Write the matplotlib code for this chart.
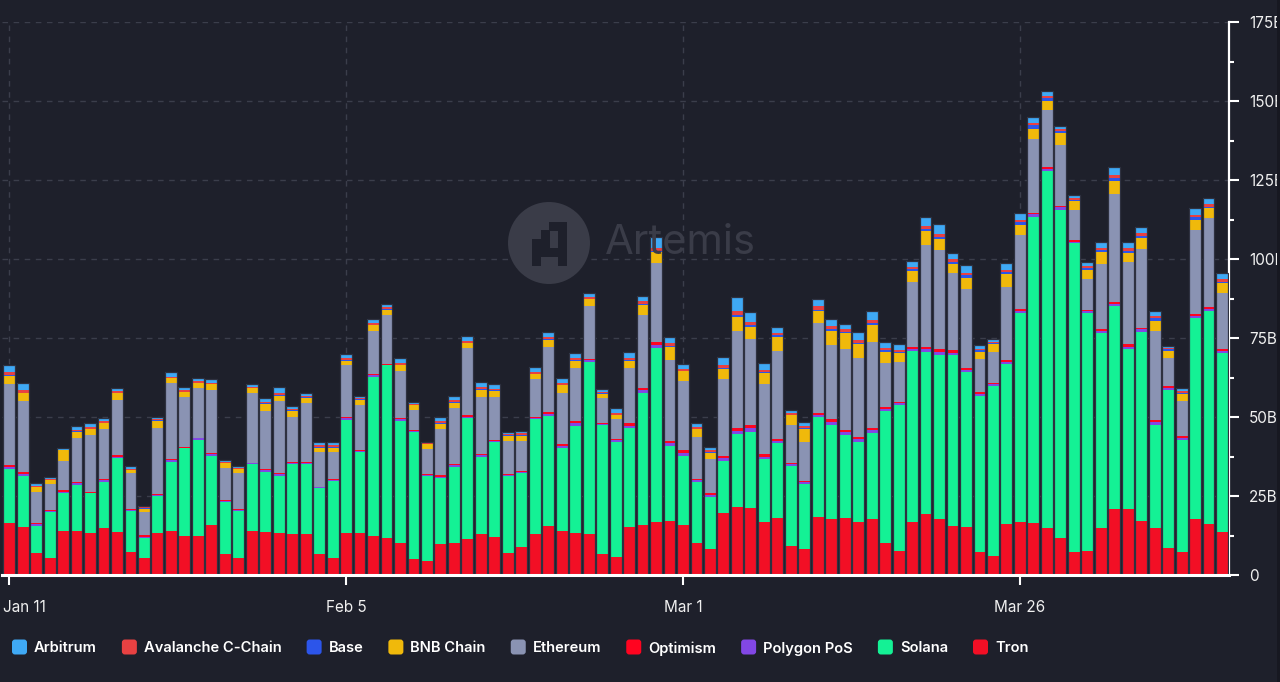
import matplotlib
matplotlib.use("Agg")
import matplotlib.pyplot as plt
import numpy as np
import pandas as pd
from matplotlib.patches import Circle, Rectangle, FancyBboxPatch
from matplotlib.transforms import ScaledTranslation

plt.rcParams['font.family'] = ['Inter', 'DejaVu Sans']

# ---------------- data (billions USD, daily) ----------------
dates = pd.date_range("2024-01-11", "2024-04-10", freq="D")
x_tick_labels = ["Jan 11", "Feb 5", "Mar 1", "Mar 26"]
x_tick_dates = ["2024-01-11", "2024-02-05", "2024-03-01", "2024-03-26"]
y_tick_values = [0, 25, 50, 75, 100, 125, 150, 175]
y_tick_labels = ["0", "25B", "50B", "75B", "100B", "125B", "150B", "175B"]

tron = [16.6, 15.2, 7.0, 5.4, 14.0, 13.9, 13.3, 14.9, 13.7, 7.3,
        5.4, 13.3, 14.0, 12.4, 12.4, 15.7, 6.6, 5.5, 14.0, 13.6,
        13.3, 13.0, 13.0, 6.5, 5.4, 13.3, 13.3, 12.4, 11.7, 10.1,
        5.1, 4.5, 9.8, 10.1, 11.4, 12.9, 12.0, 7.0, 8.9, 13.0,
        15.6, 14.0, 13.2, 12.9, 6.6, 5.7, 15.2, 15.7, 16.8, 17.1,
        15.7, 10.1, 8.2, 19.6, 21.5, 21.2, 16.8, 18.0, 9.3, 8.2,
        18.4, 17.7, 18.0, 16.8, 17.6, 10.1, 7.7, 16.8, 19.2, 17.6,
        15.6, 15.2, 7.3, 6.1, 16.0, 16.8, 16.5, 14.9, 11.7, 7.3,
        7.7, 14.9, 20.8, 20.8, 17.1, 14.9, 8.5, 7.3, 17.6, 16.0, 13.6]

solana = [16.8, 16.2, 8.6, 14.6, 11.8, 14.7, 12.5, 14.6, 23.3, 13.1,
          6.2, 11.8, 21.9, 27.7, 30.4, 22.1, 16.6, 14.9, 21.0, 19.1,
          18.1, 22.0, 22.0, 20.9, 24.5, 35.9, 25.7, 50.4, 54.6, 38.7,
          40.3, 26.9, 20.9, 24.2, 38.2, 24.6, 30.2, 24.4, 23.4, 36.3,
          34.8, 26.1, 34.1, 54.6, 40.9, 36.5, 31.2, 41.8, 54.9, 23.8,
          22.1, 19.4, 16.6, 16.6, 23.0, 24.2, 19.8, 23.7, 25.3, 20.5,
          31.7, 29.8, 26.4, 25.4, 27.2, 41.8, 46.2, 54.1, 51.4, 52.0,
          54.0, 49.0, 49.4, 53.8, 50.7, 66.0, 96.9, 113.1, 103.9, 97.8,
          75.1, 61.6, 64.3, 50.8, 59.9, 32.7, 50.1, 35.5, 63.6, 67.7, 56.6]

polygon = [0.7, 0.6, 0.4, 0.3, 0.5, 0.4, 0.3, 0.5, 0.5, 0.3,
           0.5, 0.3, 0.4, 0.2, 0.4, 0.4, 0.3, 0.3, 0.3, 0.4,
           0.5, 0.4, 0.4, 0.3, 0.3, 0.4, 0.3, 0.4, 0.3, 0.5,
           0.3, 0.3, 0.4, 0.4, 0.4, 0.4, 0.3, 0.3, 0.4, 0.4,
           0.6, 0.7, 0.8, 0.4, 0.4, 0.4, 0.9, 0.9, 1.1, 0.9,
           0.9, 0.5, 0.5, 0.8, 1.0, 1.1, 0.9, 0.7, 0.4, 0.7,
           0.6, 1.0, 0.9, 0.8, 1.0, 0.7, 0.5, 0.7, 0.9, 1.0,
           0.8, 0.8, 0.7, 0.5, 0.7, 0.7, 0.7, 0.5, 0.7, 0.4,
           0.6, 0.8, 0.7, 0.7, 0.7, 0.8, 0.6, 0.6, 0.7, 0.6, 0.7]

optimism = [0.7, 0.6, 0.4, 0.2, 0.5, 0.4, 0.2, 0.4, 0.4, 0.2,
            0.5, 0.2, 0.3, 0.2, 0.3, 0.3, 0.2, 0.3, 0.3, 0.4,
            0.4, 0.4, 0.5, 0.3, 0.2, 0.4, 0.3, 0.3, 0.2, 0.4,
            0.2, 0.3, 0.4, 0.4, 0.5, 0.3, 0.3, 0.2, 0.3, 0.3,
            0.5, 0.6, 0.7, 0.4, 0.3, 0.3, 0.7, 0.7, 0.9, 0.7,
            0.8, 0.4, 0.5, 0.7, 0.9, 0.9, 0.8, 0.6, 0.4, 0.5,
            0.5, 0.8, 0.7, 0.7, 0.8, 0.6, 0.5, 0.6, 0.7, 0.9,
            0.7, 0.6, 0.5, 0.5, 0.6, 0.6, 0.6, 0.5, 0.6, 0.4,
            0.5, 0.6, 0.7, 0.7, 0.6, 0.6, 0.6, 0.6, 0.6, 0.5, 0.5]

ethereum = [25.7, 22.6, 9.9, 8.2, 9.4, 14.0, 17.9, 15.7, 17.4, 11.3,
            7.4, 20.8, 24.1, 15.8, 15.6, 19.9, 10.1, 11.2, 21.9, 18.5,
            22.9, 14.3, 18.4, 10.9, 8.5, 16.4, 14.1, 13.8, 15.4, 14.7,
            6.3, 7.8, 14.6, 17.8, 21.3, 18.2, 13.5, 10.6, 9.4, 11.9,
            20.7, 16.1, 16.7, 16.9, 7.7, 6.4, 17.4, 23.3, 24.9, 25.4,
            22.0, 13.3, 10.8, 24.2, 30.9, 27.2, 22.0, 28.0, 12.0, 12.3,
            28.5, 23.4, 25.4, 25.0, 27.1, 13.8, 12.5, 20.6, 32.1, 31.2,
            24.4, 24.8, 10.4, 9.8, 23.2, 23.4, 23.2, 18.0, 19.1, 9.5,
            9.7, 20.4, 34.0, 26.2, 24.8, 28.3, 8.8, 11.2, 26.8, 28.1, 17.7]

bnb_chain = [2.6, 2.3, 1.6, 1.4, 3.2, 2.0, 1.9, 1.9, 2.2, 1.0,
             1.0, 2.4, 1.5, 1.6, 1.6, 1.9, 1.5, 1.3, 1.6, 2.1,
             1.6, 1.8, 1.7, 1.4, 1.4, 1.4, 1.7, 1.7, 1.8, 2.0,
             1.6, 1.6, 1.7, 1.6, 1.5, 2.2, 1.9, 1.6, 1.7, 1.6,
             2.2, 2.5, 2.3, 2.0, 1.4, 1.2, 2.3, 3.2, 3.6, 4.4,
             2.9, 2.4, 2.1, 3.2, 4.5, 4.0, 3.5, 4.4, 3.1, 4.0,
             3.9, 4.6, 5.1, 4.3, 5.3, 3.7, 2.8, 3.5, 4.7, 3.5,
             2.9, 3.6, 2.4, 2.3, 4.0, 3.4, 3.2, 2.9, 3.8, 2.9,
             3.0, 4.0, 4.2, 2.6, 3.5, 3.2, 2.4, 2.0, 3.2, 3.1, 3.2]

base = [0.2, 0.2, 0.1, 0.1, 0.1, 0.1, 0.1, 0.1, 0.1, 0.1,
        0.1, 0.1, 0.1, 0.1, 0.1, 0.1, 0.1, 0.1, 0.1, 0.2,
        0.2, 0.2, 0.2, 0.2, 0.2, 0.2, 0.2, 0.2, 0.2, 0.2,
        0.1, 0.1, 0.2, 0.2, 0.2, 0.2, 0.2, 0.1, 0.2, 0.2,
        0.2, 0.2, 0.2, 0.2, 0.2, 0.2, 0.3, 0.3, 0.4, 0.3,
        0.3, 0.2, 0.2, 0.4, 0.5, 0.5, 0.4, 0.4, 0.2, 0.3,
        0.4, 0.4, 0.4, 0.5, 0.6, 0.4, 0.4, 0.4, 0.6, 0.8,
        0.6, 0.8, 0.4, 0.3, 0.6, 0.7, 1.2, 1.0, 0.6, 0.4,
        0.5, 0.6, 1.0, 0.8, 0.7, 0.7, 0.4, 0.4, 0.7, 0.6, 0.5]

avalanche = [0.8, 0.8, 0.3, 0.3, 0.2, 0.5, 0.5, 0.5, 0.5, 0.4,
             0.3, 0.4, 0.5, 0.5, 0.5, 0.5, 0.3, 0.4, 0.4, 0.5,
             0.6, 0.5, 0.5, 0.5, 0.5, 0.7, 0.4, 0.5, 0.5, 0.6,
             0.3, 0.2, 0.6, 0.6, 0.6, 0.7, 0.6, 0.4, 0.5, 0.6,
             0.7, 0.6, 0.7, 0.5, 0.4, 0.6, 0.8, 0.8, 1.0, 0.8,
             0.6, 0.6, 0.5, 1.0, 1.2, 1.0, 0.8, 0.8, 0.5, 0.6,
             1.0, 1.0, 0.8, 0.9, 1.0, 0.7, 0.7, 0.8, 1.0, 1.0,
             0.9, 0.9, 0.5, 0.5, 0.8, 0.8, 0.7, 0.7, 0.6, 0.5,
             0.6, 0.7, 0.9, 0.8, 0.8, 0.8, 0.4, 0.5, 0.8, 0.7, 0.8]

arbitrum = [2.2, 2.2, 0.7, 0.5, 0.4, 1.3, 1.3, 1.1, 1.0, 0.9,
            0.5, 0.7, 1.4, 1.0, 0.9, 1.0, 0.6, 0.6, 0.7, 1.2,
            1.9, 1.0, 0.8, 1.1, 1.1, 1.1, 0.8, 1.2, 1.1, 1.5,
            0.4, 0.3, 1.4, 1.5, 1.5, 1.5, 1.3, 0.7, 0.9, 1.5,
            1.6, 1.4, 1.5, 1.2, 0.9, 1.6, 1.8, 1.7, 3.5, 1.9,
            1.4, 1.2, 1.1, 2.5, 4.5, 3.1, 2.1, 1.9, 0.9, 1.3,
            2.2, 2.2, 1.6, 2.5, 3.1, 1.9, 1.7, 2.0, 2.7, 3.0,
            2.0, 2.3, 1.1, 0.9, 2.1, 2.2, 2.0, 1.7, 1.2, 0.9,
            1.4, 1.7, 2.4, 1.9, 2.0, 1.7, 0.7, 1.0, 2.0, 1.9, 1.9]

# stacking order (bottom -> top)
stack_names = ["Tron", "Solana", "Polygon PoS", "Optimism", "Ethereum",
               "BNB Chain", "Base", "Avalanche C-Chain", "Arbitrum"]
stack_values = [tron, solana, polygon, optimism, ethereum,
                bnb_chain, base, avalanche, arbitrum]
legend_names = ["Arbitrum", "Avalanche C-Chain", "Base", "BNB Chain", "Ethereum",
                "Optimism", "Polygon PoS", "Solana", "Tron"]

colors = {
    "Arbitrum": "#3fa9f5",
    "Avalanche C-Chain": "#e84142",
    "Base": "#2c55ea",
    "BNB Chain": "#f0b90b",
    "Ethereum": "#8a93b3",
    "Optimism": "#ff0420",
    "Polygon PoS": "#8247e5",
    "Solana": "#14f195",
    "Tron": "#f20f25",
}

BG = "#1e202b"
GRID = "#3b3e4b"
W, H = 1280, 682

fig = plt.figure(figsize=(W / 100, H / 100), dpi=100, facecolor=BG)
ax = fig.add_axes([2 / W, 107 / H, 1227.3 / W, 553 / H])
ax.set_facecolor(BG)

x = np.arange(len(dates))
bottom = np.zeros(len(dates))
for name, vals in zip(stack_names, stack_values):
    v = np.asarray(vals, dtype=float)
    ax.bar(x, v, width=0.88, bottom=bottom, color=colors[name],
           linewidth=0, zorder=3)
    bottom += v
# outline of each full bar
ax.bar(x, bottom, width=0.88, bottom=0, facecolor="none",
       edgecolor="#2e3140", linewidth=0.9, zorder=4)

ax.set_xlim(-0.53, len(dates) - 0.46)
ax.set_ylim(0, 175)

# ticks
tick_pos = [int((pd.Timestamp(d) - dates[0]).days) for d in x_tick_dates]
ax.set_xticks(tick_pos)
ax.set_xticklabels(x_tick_labels)
ax.yaxis.tick_right()
ax.set_yticks(y_tick_values)
ax.set_yticklabels(y_tick_labels)
ax.set_yticks(np.arange(12.5, 175, 25), minor=True)

ax.tick_params(axis="x", colors="white", length=7, width=1.5, pad=11,
               labelsize=11, labelcolor="#f0f0f0")
ax.tick_params(axis="y", which="major", colors="white", length=7.3, width=1.5,
               pad=6.8, labelsize=11, labelcolor="#f0f0f0")
ax.tick_params(axis="y", which="minor", colors="white", length=3.3, width=1.5)

first = ax.get_xticklabels()[0]
first.set_ha("left")
first.set_transform(first.get_transform() + ScaledTranslation(-6 / 100, 0, fig.dpi_scale_trans))

for s in ["left", "top"]:
    ax.spines[s].set_visible(False)
ax.spines["bottom"].set_color("white")
ax.spines["bottom"].set_linewidth(2.2)
ax.spines["right"].set_color("white")
ax.spines["right"].set_linewidth(1.6)
ax.spines["bottom"].set_zorder(6)

ax.grid(True, which="major", color=GRID, linestyle=(0, (4, 4)), linewidth=1.0, zorder=0)
ax.set_axisbelow(True)

# watermark (behind bars)
wm_col = "#3a3c48"
circ = Circle((549, H - 243), 41, transform=None, facecolor=wm_col,
              edgecolor="none", zorder=1)
ax.add_artist(circ)
u = 8.7
ox, oy = 532, 222
cells = [(2, 0), (3, 0), (1, 1), (3, 1), (0, 2), (1, 2), (3, 2),
         (0, 3), (1, 3), (2, 3), (3, 3), (0, 4), (3, 4)]
for cx, cy in cells:
    ax.add_artist(Rectangle((ox + cx * u, H - (oy + (cy + 1) * u)), u + 0.3, u + 0.3,
                            transform=None, facecolor=BG, edgecolor="none", zorder=1.5))
fig.text(605 / W, 1 - 243 / H, "Artemis", color=wm_col, fontsize=30,
         ha="left", va="center", zorder=1)

# legend (manual, bottom)
fig.canvas.draw()
renderer = fig.canvas.get_renderer()
cur = 12
ly = 647
for name in legend_names:
    fig.patches.append(FancyBboxPatch((cur, H - ly - 7.5), 15, 15,
                                      boxstyle="round,pad=0,rounding_size=3",
                                      transform=None, facecolor=colors[name],
                                      edgecolor="none", figure=fig))
    t = fig.text((cur + 22) / W, 1 - ly / H, name, color="white", fontsize=10.6,
                 fontweight="semibold", ha="left", va="center_baseline")
    bb = t.get_window_extent(renderer)
    cur = bb.x1 + 25

# right edge strip (canvas edge clips the long y labels)
fig.patches.append(Rectangle((1277, 0), 3, H, transform=None, facecolor="#171821",
                             edgecolor="none", figure=fig, zorder=10))

fig.savefig("out.png", dpi=100, facecolor=BG)
